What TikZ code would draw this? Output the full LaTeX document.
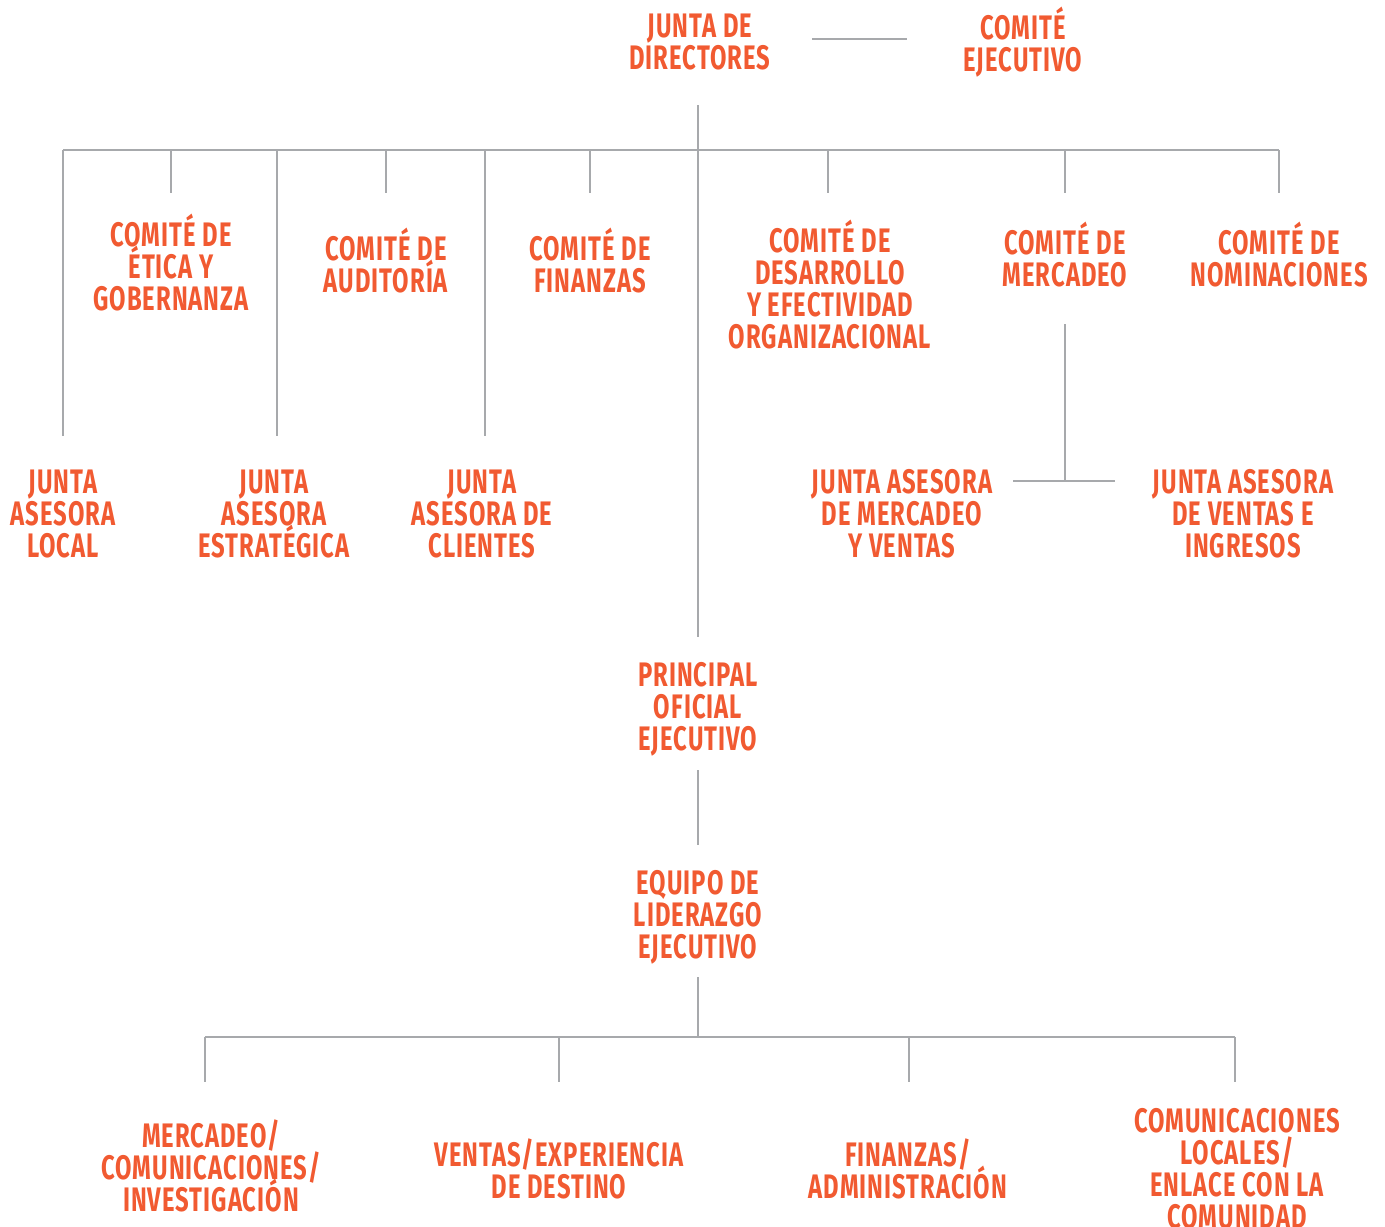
\documentclass[tikz,border=0pt]{standalone}
\usepackage{fontspec}
\newfontfamily\orgfont{Fira Sans}[FakeStretch=0.7, LetterSpace=3]
\usepackage{xcolor}
\usepackage{tikz}
\usetikzlibrary{positioning}

\definecolor{orgred}{HTML}{F15A31}
\definecolor{orggray}{HTML}{A7A9AC}
\newcommand\unitfont{\orgfont\bfseries\fontsize{17}{16}\selectfont\lineskiplimit=-20pt\relax}

\begin{document}
\begin{tikzpicture}[
  x=0.5pt, y=-0.5pt,
  unit/.style={text=orgred, align=center, inner sep=0pt, font=\unitfont},
  conn/.style={draw=orggray, line width=0.75pt}
]
\useasboundingbox (0,0) rectangle (1385,1226);
% board level
\node[unit] (jd) at (700,42) {JUNTA DE\\DIRECTORES};
\node[unit] (ce) at (1023,42) {COMITÉ\\EJECUTIVO};
% committees
\node[unit] (etica) at (171,263) {COMITÉ DE\\ÉTICA Y\\GOBERNANZA};
\node[unit] (audit) at (386,261) {COMITÉ DE\\AUDITORÍA};
\node[unit] (finz) at (590,261) {COMITÉ DE\\FINANZAS};
\node[unit] (desa) at (830,285) {COMITÉ DE\\DESARROLLO\\Y EFECTIVIDAD\\ORGANIZACIONAL};
\node[unit] (merc) at (1065,255) {COMITÉ DE\\MERCADEO};
\node[unit] (nomi) at (1279,255) {COMITÉ DE\\NOMINACIONES};
% advisory boards
\node[unit] (local) at (63,514) {JUNTA\\ASESORA\\LOCAL};
\node[unit] (estr) at (274,514) {JUNTA\\ASESORA\\ESTRATÉGICA};
\node[unit] (clie) at (482,514) {JUNTA\\ASESORA DE\\CLIENTES};
\node[unit] (jamv) at (902,514) {JUNTA ASESORA\\DE MERCADEO\\Y VENTAS};
\node[unit] (javi) at (1243,514) {JUNTA ASESORA\\DE VENTAS E\\INGRESOS};
% executive
\node[unit] (ceo) at (698,709) {PRINCIPAL\\OFICIAL\\EJECUTIVO};
\node[unit] (equipo) at (698,917) {EQUIPO DE\\LIDERAZGO\\EJECUTIVO};
% departments
\node[unit] (mci) at (211,1166) {MERCADEO/\\COMUNICACIONES/\\INVESTIGACIÓN};
\node[unit] (ved) at (559,1169) {VENTAS/EXPERIENCIA\\DE DESTINO};
\node[unit] (fad) at (908,1169) {FINANZAS/\\ADMINISTRACIÓN};
\node[unit] (clc) at (1237,1169) {COMUNICACIONES\\LOCALES/\\ENLACE CON LA\\COMUNIDAD};

\coordinate (bus) at (698,150);
\coordinate (mbus) at (1065,481);
\coordinate (dbus) at (698,1037);

% connectors
\draw[conn] (812,39) coordinate (cl) -- (907,39) coordinate (cr);
\draw[conn] (bus |- 0,105) -- (bus);
\draw[conn] (63,150) -- (1279,150);
\draw[conn] (etica |- bus) -- ++(0,43);
\draw[conn] (audit |- bus) -- ++(0,43);
\draw[conn] (finz |- bus) -- ++(0,43);
\draw[conn] (828,150) -- ++(0,43);
\draw[conn] (merc |- bus) -- ++(0,43);
\draw[conn] (nomi |- bus) -- ++(0,43);
\draw[conn] (local |- bus) -- ++(0,286);
\draw[conn] (277,150) -- ++(0,286);
\draw[conn] (485,150) -- ++(0,286);
\draw[conn] (bus) -- (ceo |- 0,637);
\draw[conn] (merc |- 0,324) -- (mbus);
\draw[conn] (1013,481) -- (1115,481);
\draw[conn] (ceo |- 0,770) -- (equipo |- 0,845);
\draw[conn] (equipo |- 0,977) -- (dbus);
\draw[conn] (205,1037) -- (1235,1037);
\draw[conn] (205,1037) -- ++(0,45);
\draw[conn] (ved |- dbus) -- ++(0,45);
\draw[conn] (909,1037) -- ++(0,45);
\draw[conn] (1235,1037) -- ++(0,45);
\end{tikzpicture}
\end{document}
